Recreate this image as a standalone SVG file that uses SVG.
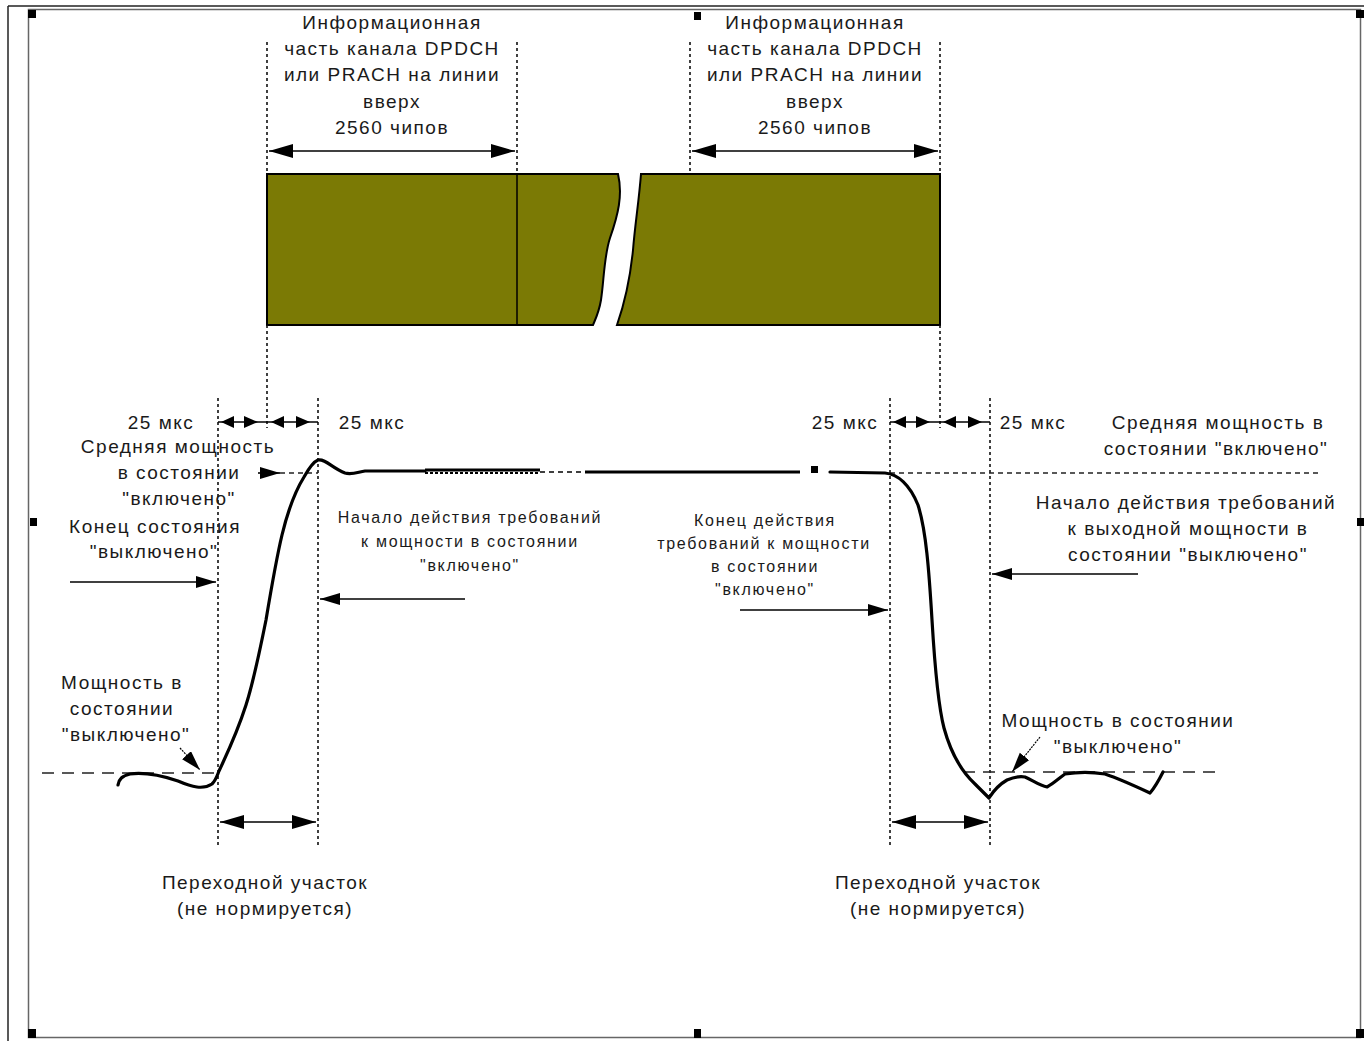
<svg xmlns="http://www.w3.org/2000/svg" width="1364" height="1041" viewBox="0 0 1364 1041">
<style>
text{font-family:"Liberation Sans",Arial,sans-serif;font-size:19px;fill:#1a1a1a;text-anchor:middle;letter-spacing:1.5px}
.sm{font-size:16px;letter-spacing:1.7px}
.dot{stroke:#111;stroke-width:1.6;stroke-dasharray:3 3;fill:none}
.dash{stroke:#222;stroke-width:1.4;stroke-dasharray:12 8;fill:none}
.dl{stroke:#222;stroke-width:1.3;stroke-dasharray:5 4;fill:none}
.ln{stroke:#000;stroke-width:1.6;fill:none}
.crv{stroke:#000;stroke-width:3.2;fill:none;stroke-linejoin:round;stroke-linecap:round}
</style>
<defs>
<marker id="ah" markerUnits="userSpaceOnUse" markerWidth="26" markerHeight="16" refX="24" refY="7" orient="auto-start-reverse" viewBox="0 0 26 16"><path d="M0,0 L24,7 L0,14 z" fill="#000"/></marker>
<marker id="ahs" markerUnits="userSpaceOnUse" markerWidth="22" markerHeight="14" refX="20" refY="6" orient="auto-start-reverse" viewBox="0 0 22 14"><path d="M0,0 L20,6 L0,12 z" fill="#000"/></marker>
</defs>
<rect width="1364" height="1041" fill="#fff"/>
<g id="frame">
<line x1="8" y1="6" x2="1364" y2="6" stroke="#222" stroke-width="1.5"/>
<line x1="8" y1="6" x2="8" y2="1041" stroke="#222" stroke-width="1.5"/>
<rect x="28.5" y="9.5" width="1332" height="1028" fill="none" stroke="#666" stroke-width="1.5"/>
<rect x="28" y="10" width="8" height="8" fill="#000"/>
<rect x="694" y="12" width="7" height="8" fill="#000"/>
<rect x="1356" y="10" width="8" height="8" fill="#000"/>
<rect x="30" y="518" width="7" height="8" fill="#000"/>
<rect x="1357" y="518" width="7" height="8" fill="#000"/>
<rect x="28" y="1029" width="8" height="9" fill="#000"/>
<rect x="694" y="1029" width="7" height="9" fill="#000"/>
<rect x="1356" y="1029" width="8" height="9" fill="#000"/>
</g>
<g id="bar">
<path d="M267,174 L618,174 C623,195 618,215 610,238 C604,256 604,280 601,300 C599,312 596,318 593,325 L267,325 Z" fill="#7b7a05" stroke="#000" stroke-width="2"/>
<path d="M641,174 L940,174 L940,325 L617,325 C624,305 630,280 633,250 C635,225 639,200 641,174 Z" fill="#7b7a05" stroke="#000" stroke-width="2"/>
<line x1="517" y1="174" x2="517" y2="325" stroke="#000" stroke-width="1.5"/>
</g>
<g id="guides">
<line class="dot" x1="267" y1="42" x2="267" y2="174"/>
<line class="dot" x1="517" y1="42" x2="517" y2="174"/>
<line class="dot" x1="690" y1="42" x2="690" y2="174"/>
<line class="dot" x1="940" y1="42" x2="940" y2="174"/>
<line class="dot" x1="267" y1="325" x2="267" y2="428"/>
<line class="dot" x1="940" y1="325" x2="940" y2="428"/>
<line class="dot" x1="218" y1="398" x2="218" y2="845"/>
<line class="dot" x1="318" y1="398" x2="318" y2="845"/>
<line class="dot" x1="890" y1="398" x2="890" y2="845"/>
<line class="dot" x1="990" y1="398" x2="990" y2="845"/>
<line class="dl" x1="280" y1="473" x2="318" y2="473"/>
<line class="dl" x1="890" y1="473" x2="1322" y2="473"/>
<line class="dash" x1="42" y1="773" x2="215" y2="773"/>
<line class="dash" x1="963" y1="772" x2="1222" y2="772"/>
</g>
<g id="connectors">
<line class="ln" x1="269" y1="151" x2="515" y2="151" marker-start="url(#ah)" marker-end="url(#ah)"/>
<line class="ln" x1="692" y1="151" x2="938" y2="151" marker-start="url(#ah)" marker-end="url(#ah)"/>
<line class="ln" x1="220" y1="822" x2="316" y2="822" marker-start="url(#ah)" marker-end="url(#ah)"/>
<line class="ln" x1="892" y1="822" x2="988" y2="822" marker-start="url(#ah)" marker-end="url(#ah)"/>
<line class="ln" x1="70" y1="582" x2="216" y2="582" marker-end="url(#ahs)"/>
<line class="ln" x1="465" y1="599" x2="320" y2="599" marker-end="url(#ahs)"/>
<line class="ln" x1="740" y1="610" x2="888" y2="610" marker-end="url(#ahs)"/>
<line class="ln" x1="1138" y1="574" x2="992" y2="574" marker-end="url(#ahs)"/>
<line class="ln" x1="258" y1="473" x2="280" y2="473" marker-end="url(#ahs)"/>
<line x1="180" y1="748" x2="200" y2="770" stroke="#000" stroke-width="1.2" stroke-dasharray="2 1" marker-end="url(#ahs)"/>
<line x1="1040" y1="737" x2="1012" y2="772" stroke="#000" stroke-width="1.2" stroke-dasharray="2 1" marker-end="url(#ahs)"/>
<g id="us25" fill="#000">
<line class="ln" x1="218" y1="422" x2="318" y2="422"/>
<path d="M221,422 L234,416 L234,428 Z M258,422 L244,416 L244,428 Z M271,422 L284,416 L284,428 Z M310,422 L296,416 L296,428 Z"/>
<line class="ln" x1="890" y1="422" x2="990" y2="422"/>
<path d="M893,422 L906,416 L906,428 Z M930,422 L916,416 L916,428 Z M943,422 L956,416 L956,428 Z M982,422 L968,416 L968,428 Z"/>
</g>
</g>
<g id="curve">
<path class="crv" d="M118,785 C119,779 122,776 130,774 C145,772 160,775 178,781 C192,787 203,790 212,784 C216,780 217,776 219,771 C228,752 238,730 246,705 C254,680 260,650 266,620 C271,590 276,560 282,535 C288,510 296,490 304,477 C309,468 313,462 318,460 C326,459 332,468 345,473 C352,475 358,472 365,471 L425,471"/>
<line x1="425" y1="470" x2="540" y2="470" stroke="#000" stroke-width="3"/>
<line x1="425" y1="473" x2="540" y2="473" stroke="#000" stroke-width="2" stroke-dasharray="3 2"/>
<line x1="540" y1="472" x2="585" y2="472" stroke="#000" stroke-width="1.3" stroke-dasharray="5 4"/>
<line x1="585" y1="472" x2="800" y2="472" stroke="#000" stroke-width="3"/>
<rect x="811" y="466" width="7" height="7" fill="#000"/>
<path class="crv" d="M830,472 L885,473 C898,474 910,485 918,505 C926,530 929,570 932,620 C935,670 938,705 944,728 C950,750 960,770 975,784 C980,789 985,794 989,798 C994,790 1000,784 1007,780 C1014,777 1020,776 1025,777 C1032,780 1040,786 1047,787 C1053,784 1058,779 1065,774 C1078,772 1092,772 1105,774 C1120,779 1135,786 1150,793 C1156,786 1160,778 1163,772"/>
</g>
<g id="labels">
<text x="392" y="29">Информационная</text>
<text x="392" y="55">часть канала DPDCH</text>
<text x="392" y="81">или PRACH на линии</text>
<text x="392" y="108">вверх</text>
<text x="392" y="134">2560 чипов</text>
<text x="815" y="29">Информационная</text>
<text x="815" y="55">часть канала DPDCH</text>
<text x="815" y="81">или PRACH на линии</text>
<text x="815" y="108">вверх</text>
<text x="815" y="134">2560 чипов</text>
<text x="161" y="429">25 мкс</text>
<text x="372" y="429">25 мкс</text>
<text x="845" y="429">25 мкс</text>
<text x="1033" y="429">25 мкс</text>
<text x="1218" y="429">Средняя мощность в</text>
<text x="1216" y="455">состоянии "включено"</text>
<text x="178" y="453">Средняя мощность</text>
<text x="179" y="479">в состоянии</text>
<text x="179" y="505">"включено"</text>
<text x="155" y="533">Конец  состояния</text>
<text x="154" y="558">"выключено"</text>
<text class="sm" x="470" y="523">Начало действия требований</text>
<text class="sm" x="470" y="547">к мощности в состоянии</text>
<text class="sm" x="470" y="571">"включено"</text>
<text class="sm" x="765" y="526">Конец  действия</text>
<text class="sm" x="764" y="549">требований к мощности</text>
<text class="sm" x="765" y="572">в состоянии</text>
<text class="sm" x="765" y="595">"включено"</text>
<text x="1186" y="509">Начало действия требований</text>
<text x="1188" y="535">к выходной мощности в</text>
<text x="1188" y="561">состоянии "выключено"</text>
<text x="122" y="689">Мощность в</text>
<text x="122" y="715">состоянии</text>
<text x="126" y="741">"выключено"</text>
<text x="1118" y="727">Мощность в состоянии</text>
<text x="1118" y="753">"выключено"</text>
<text x="265" y="889">Переходной участок</text>
<text x="265" y="915">(не нормируется)</text>
<text x="938" y="889">Переходной участок</text>
<text x="938" y="915">(не нормируется)</text>
</g>
</svg>
